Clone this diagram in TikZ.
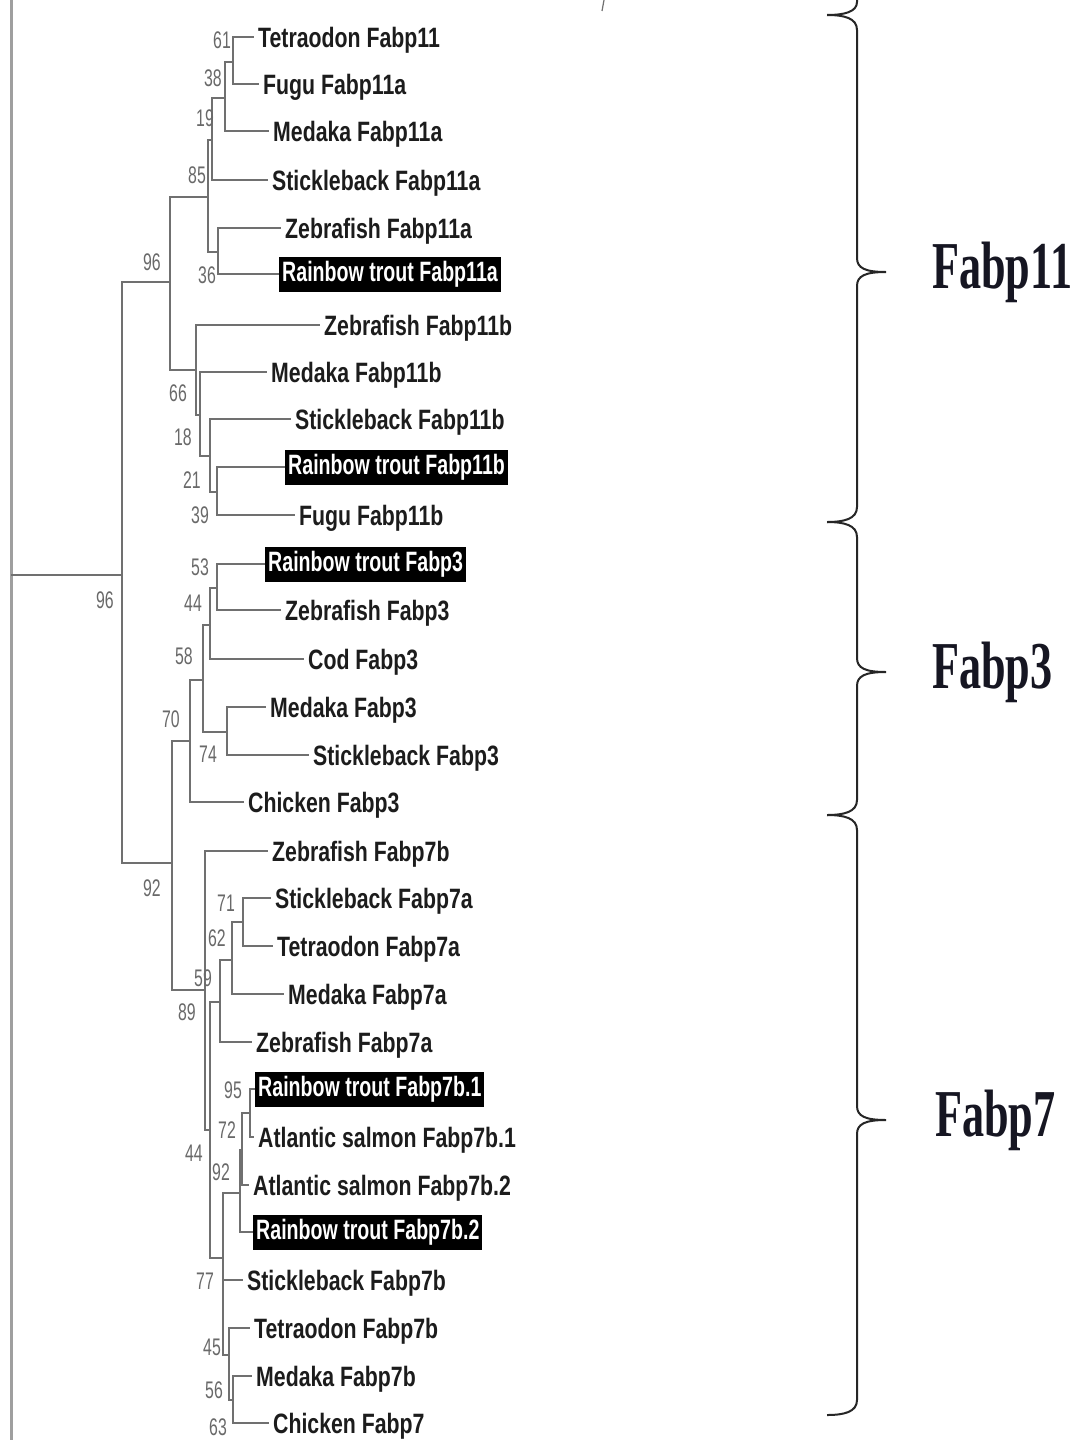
\documentclass[tikz,border=0pt]{standalone}
\usepackage{fontspec}
\newfontfamily\leaffont[FakeStretch=0.76]{Liberation Sans}
\newfontfamily\boxfont[FakeStretch=0.70]{Liberation Sans}
\newfontfamily\numfont[FakeStretch=0.66]{Liberation Sans}
\newfontfamily\grpfont[FakeStretch=0.66]{Liberation Serif}
\definecolor{treegray}{RGB}{112,112,112}
\definecolor{numgray}{RGB}{105,105,105}
\definecolor{leafink}{RGB}{28,28,28}
\definecolor{grpink}{RGB}{22,22,34}
\tikzset{
  br/.style={draw=treegray, line width=1.8pt},
  rootline/.style={draw=gray!75, line width=3pt},
  leaf/.style={anchor=west, inner xsep=4pt, inner ysep=0pt, text height=20pt, text depth=0pt,
     font=\leaffont\bfseries\fontsize{28}{30}\selectfont, text=leafink},
  boxleaf/.style={anchor=west, inner xsep=3pt, inner ysep=3pt, text height=22pt, text depth=7pt,
     fill=black, text=white, font=\boxfont\bfseries\fontsize{28}{30}\selectfont},
  bs/.style={inner sep=0pt, text=numgray, font=\numfont\fontsize{24}{26}\selectfont},
  grp/.style={anchor=west, inner sep=0pt, text=grpink, font=\grpfont\bfseries\fontsize{67}{70}\selectfont},
  bracestyle/.style={draw=black!85, line width=2pt}
}
\begin{document}
\begin{tikzpicture}[x=1pt,y=-1pt]
\useasboundingbox (0,0) rectangle (1077,1440);
\fill[white] (0,0) rectangle (1077,1440);

% ---------- leaves ----------
\node[leaf] (l1) at (254,37) {Tetraodon Fabp11};
\node[leaf] (l2) at (259,84) {Fugu Fabp11a};
\node[leaf] (l3) at (269,131) {Medaka Fabp11a};
\node[leaf] (l4) at (268,180) {Stickleback Fabp11a};
\node[leaf] (l5) at (281,228) {Zebrafish Fabp11a};
\node[boxleaf] (l6) at (279,274) {Rainbow trout Fabp11a};
\node[leaf] (l7) at (320,325) {Zebrafish Fabp11b};
\node[leaf] (l8) at (267,372) {Medaka Fabp11b};
\node[leaf] (l9) at (291,419) {Stickleback Fabp11b};
\node[boxleaf] (l10) at (285,467) {Rainbow trout Fabp11b};
\node[leaf] (l11) at (295,515) {Fugu Fabp11b};
\node[boxleaf] (l12) at (265,564) {Rainbow trout Fabp3};
\node[leaf] (l13) at (281,610) {Zebrafish Fabp3};
\node[leaf] (l14) at (304,659) {Cod Fabp3};
\node[leaf] (l15) at (266,707) {Medaka Fabp3};
\node[leaf] (l16) at (309,755) {Stickleback Fabp3};
\node[leaf] (l17) at (244,802) {Chicken Fabp3};
\node[leaf] (l18) at (268,851) {Zebrafish Fabp7b};
\node[leaf] (l19) at (271,898) {Stickleback Fabp7a};
\node[leaf] (l20) at (273,946) {Tetraodon Fabp7a};
\node[leaf] (l21) at (284,994) {Medaka Fabp7a};
\node[leaf] (l22) at (252,1042) {Zebrafish Fabp7a};
\node[boxleaf] (l23) at (255,1089) {Rainbow trout Fabp7b.1};
\node[leaf] (l24) at (254,1137) {Atlantic salmon Fabp7b.1};
\node[leaf] (l25) at (249,1185) {Atlantic salmon Fabp7b.2};
\node[boxleaf] (l26) at (253,1232) {Rainbow trout Fabp7b.2};
\node[leaf] (l27) at (243,1280) {Stickleback Fabp7b};
\node[leaf] (l28) at (250,1328) {Tetraodon Fabp7b};
\node[leaf] (l29) at (252,1376) {Medaka Fabp7b};
\node[leaf] (l30) at (269,1423) {Chicken Fabp7};

% ---------- internal nodes ----------
\coordinate (rtop) at (11,0);
\coordinate (rbot) at (11,1440);
\coordinate (R0) at (11,575);
\coordinate (N1) at (122,575);
\coordinate (N11) at (170,282);
\coordinate (A) at (208,197);
\coordinate (A1) at (212,140);
\coordinate (A11) at (225,98);
\coordinate (A111) at (233,62);
\coordinate (A2) at (218,252);
\coordinate (B) at (196,370);
\coordinate (B1) at (200,415);
\coordinate (B2) at (210,456);
\coordinate (B3) at (217,492);
\coordinate (N2) at (172,863);
\coordinate (N3) at (190,741);
\coordinate (C) at (203,680);
\coordinate (C1) at (210,625);
\coordinate (C11) at (217,588);
\coordinate (C2) at (227,732);
\coordinate (N7) at (205,990);
\coordinate (D) at (210,1130);
\coordinate (E) at (220,1002);
\coordinate (E1) at (232,960);
\coordinate (E11) at (243,922);
\coordinate (F) at (223,1258);
\coordinate (G) at (240,1193);
\coordinate (G1) at (242,1150);
\coordinate (G11) at (250,1113);
\coordinate (H) at (229,1355);
\coordinate (H1) at (233,1400);

% ---------- branches ----------
\draw[rootline] (rtop) -- (rbot);
\draw[br] (R0) -- (N1);
\draw[br] (N1) |- (N11);  \draw[br] (N1) |- (N2);
\draw[br] (N11) |- (A);   \draw[br] (N11) |- (B);
\draw[br] (A) |- (A1);    \draw[br] (A) |- (A2);
\draw[br] (A1) |- (A11);  \draw[br] (A1) |- (l4.west);
\draw[br] (A11) |- (A111); \draw[br] (A11) |- (l3.west);
\draw[br] (A111) |- (l1.west); \draw[br] (A111) |- (l2.west);
\draw[br] (A2) |- (l5.west); \draw[br] (A2) |- (l6.west);
\draw[br] (B) |- (l7.west); \draw[br] (B) |- (B1);
\draw[br] (B1) |- (l8.west); \draw[br] (B1) |- (B2);
\draw[br] (B2) |- (l9.west); \draw[br] (B2) |- (B3);
\draw[br] (B3) |- (l10.west); \draw[br] (B3) |- (l11.west);
\draw[br] (N2) |- (N3);   \draw[br] (N2) |- (N7);
\draw[br] (N3) |- (C);    \draw[br] (N3) |- (l17.west);
\draw[br] (C) |- (C1);    \draw[br] (C) |- (C2);
\draw[br] (C1) |- (C11);  \draw[br] (C1) |- (l14.west);
\draw[br] (C11) |- (l12.west); \draw[br] (C11) |- (l13.west);
\draw[br] (C2) |- (l15.west); \draw[br] (C2) |- (l16.west);
\draw[br] (N7) |- (l18.west); \draw[br] (N7) |- (D);
\draw[br] (D) |- (E);     \draw[br] (D) |- (F);
\draw[br] (E) |- (E1);    \draw[br] (E) |- (l22.west);
\draw[br] (E1) |- (E11);  \draw[br] (E1) |- (l21.west);
\draw[br] (E11) |- (l19.west); \draw[br] (E11) |- (l20.west);
\draw[br] (F) |- (G);     \draw[br] (F) |- (l27.west); \draw[br] (F) |- (H);
\draw[br] (G) |- (G1);    \draw[br] (G) |- (l26.west);
\draw[br] (G1) |- (G11);  \draw[br] (G1) |- (l25.west);
\draw[br] (G11) |- (l23.west); \draw[br] (G11) |- (l24.west);
\draw[br] (H) |- (l28.west); \draw[br] (H) |- (H1);
\draw[br] (H1) |- (l29.west); \draw[br] (H1) |- (l30.west);

% ---------- bootstrap values ----------
\node[bs] (b1) at (222,40) {61};
\node[bs] (b2) at (213,78) {38};
\node[bs] (b3) at (205,118) {19};
\node[bs] (b4) at (197,175) {85};
\node[bs] (b5) at (152,262) {96};
\node[bs] (b6) at (207,275) {36};
\node[bs] (b7) at (178,393) {66};
\node[bs] (b8) at (183,437) {18};
\node[bs] (b9) at (192,480) {21};
\node[bs] (b10) at (200,515) {39};
\node[bs] (b11) at (105,600) {96};
\node[bs] (b12) at (200,567) {53};
\node[bs] (b13) at (193,603) {44};
\node[bs] (b14) at (184,656) {58};
\node[bs] (b15) at (171,719) {70};
\node[bs] (b16) at (208,754) {74};
\node[bs] (b17) at (152,888) {92};
\node[bs] (b18) at (226,903) {71};
\node[bs] (b19) at (217,938) {62};
\node[bs] (b20) at (203,978) {59};
\node[bs] (b21) at (187,1012) {89};
\node[bs] (b22) at (233,1090) {95};
\node[bs] (b23) at (227,1130) {72};
\node[bs] (b24) at (194,1153) {44};
\node[bs] (b25) at (221,1172) {92};
\node[bs] (b26) at (205,1281) {77};
\node[bs] (b27) at (212,1347) {45};
\node[bs] (b28) at (214,1390) {56};
\node[bs] (b29) at (218,1427) {63};

% ---------- group labels ----------
\node[grp] (g11) at (932,272) {Fabp11};
\node[grp] (g3) at (932,672) {Fabp3};
\node[grp] (g7) at (935,1120) {Fabp7};

% ---------- braces ----------
\draw[bracestyle] (857,-5) -- (857,2) .. controls (857,12) and (844,15) .. (827,15);
\draw[bracestyle] (827,15) .. controls (844,15) and (857,18) .. (857,30) -- (857,258)
   .. controls (857,268) and (865,272) .. (886,272)
   .. controls (865,272) and (857,276) .. (857,286) -- (857,507)
   .. controls (857,519) and (844,522) .. (827,522);
\draw[bracestyle] (827,522) .. controls (844,522) and (857,525) .. (857,537) -- (857,658)
   .. controls (857,668) and (865,672) .. (886,672)
   .. controls (865,672) and (857,676) .. (857,686) -- (857,800)
   .. controls (857,812) and (844,815) .. (827,815);
\draw[bracestyle] (827,815) .. controls (844,815) and (857,818) .. (857,830) -- (857,1106)
   .. controls (857,1116) and (865,1120) .. (886,1120)
   .. controls (865,1120) and (857,1124) .. (857,1134) -- (857,1400)
   .. controls (857,1412) and (844,1415) .. (827,1415);
\draw[treegray, line width=1.2pt] (604,0) -- (602,11);
\end{tikzpicture}
\end{document}
